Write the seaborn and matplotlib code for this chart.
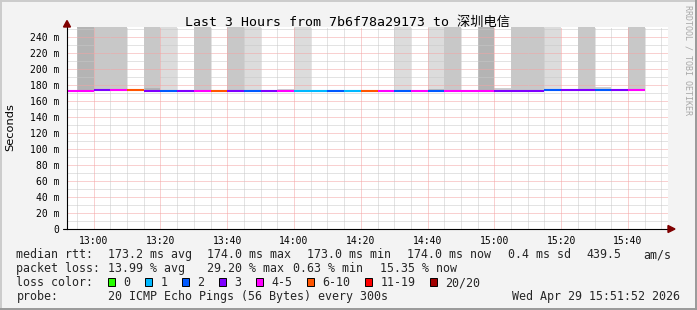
import matplotlib
matplotlib.use("Agg")
import matplotlib.pyplot as plt
import seaborn as sns
import pandas as pd
from matplotlib.patches import Rectangle, Polygon
from matplotlib.lines import Line2D
from matplotlib.ticker import MultipleLocator

# ---------------- data ----------------
step_times = ["12:50", "12:55", "13:00", "13:05", "13:10", "13:15", "13:20", "13:25",
              "13:30", "13:35", "13:40", "13:45", "13:50", "13:55", "14:00", "14:05",
              "14:10", "14:15", "14:20", "14:25", "14:30", "14:35", "14:40", "14:45",
              "14:50", "14:55", "15:00", "15:05", "15:10", "15:15", "15:20", "15:25",
              "15:30", "15:35", "15:40"]
median_rtt_ms = [173, 173, 174, 174, 174, 173, 173, 173,
                 173, 173, 173, 173, 173, 173, 173, 173,
                 173, 173, 173, 173, 173, 173, 173, 173,
                 173, 173, 173, 173, 173, 174, 174, 174,
                 174, 174, 174]
loss_class = ["4-5", "4-5", "3", "4-5", "6-10", "3", "2", "3",
              "4-5", "6-10", "3", "2", "3", "4-5", "1", "1",
              "2", "1", "6-10", "4-5", "2", "4-5", "2", "4-5",
              "4-5", "4-5", "3", "3", "3", "2", "3", "3",
              "2", "3", "4-5"]
smoke_shade = ["none", "dark", "mid", "mid", "none", "mid", "light", "none",
               "mid", "none", "mid", "light", "none", "none", "light", "none",
               "none", "none", "none", "none", "light", "none", "light", "mid",
               "none", "dark", "none", "mid", "mid", "light", "none", "mid",
               "none", "none", "mid"]
bump_top_ms = [0, 0, 0, 0, 0, 176, 0, 0,
               0, 0, 0, 0, 0, 175, 0, 0,
               0, 0, 0, 0, 0, 0, 175.5, 0,
               0, 0, 176.5, 0, 0, 0, 175.5, 0,
               178, 0, 0]

loss_labels = ["0", "1", "2", "3", "4-5", "6-10", "11-19", "20/20"]
loss_colors = ["#26ff00", "#00b8ff", "#0059ff", "#7e00ff", "#ff00ff", "#ff5500", "#ff0000", "#a10000"]
shade_colors = {"dark": "#b4b4b4", "mid": "#c8c8c8", "light": "#dcdcdc"}

y_ticks_ms = [0, 20, 40, 60, 80, 100, 120, 140, 160, 180, 200, 220, 240]
x_tick_labels = ["13:00", "13:20", "13:40", "14:00", "14:20", "14:40", "15:00", "15:20", "15:40"]
x_range = ["12:52", "15:52"]
step_minutes = 5

title = "Last 3 Hours from 7b6f78a29173 to 深圳电信"
stats_rtt = ["median rtt:", "173.2 ms avg", "174.0 ms max", "173.0 ms min", "174.0 ms now",
             "0.4 ms sd", "439.5", "am/s"]
stats_loss = ["packet loss:", "13.99 % avg", "29.20 % max", "0.63 % min", "15.35 % now"]
probe_text = ["probe:", "20 ICMP Echo Pings (56 Bytes) every 300s"]
timestamp = "Wed Apr 29 15:51:52 2026"


def to_min(s):
    h, m = s.split(":")
    return int(h) * 60 + int(m)


# ---------------- figure ----------------
W, H = 697, 310
sns.set_style("white")
plt.rcParams["font.family"] = ["DejaVu Sans Mono", "Noto Sans CJK SC"]

fig = plt.figure(figsize=(W / 100, H / 100), dpi=100, facecolor="#f3f3f3")


def fx(x):
    return x / W


def fy(y):
    return 1 - y / H


L, R, T, B = 67, 668, 27, 229
ax = fig.add_axes([fx(L), fy(B), (R - L) / W, (B - T) / H])
ax.set_facecolor("white")
ymax = (B - T) / 0.8
ax.set_ylim(0, ymax)
ax.set_xlim(to_min(x_range[0]), to_min(x_range[1]))

starts = [to_min(t) for t in step_times]

# smoke
for s, rtt, sh in zip(starts, median_rtt_ms, smoke_shade):
    if sh != "none":
        ax.bar(s, ymax + 10 - rtt, bottom=rtt, width=step_minutes, align="edge",
               color=shade_colors[sh], linewidth=0, zorder=1)
for s, rtt, bt in zip(starts, median_rtt_ms, bump_top_ms):
    if bt > 0:
        ax.bar(s, bt - rtt, bottom=rtt, width=step_minutes, align="edge",
               color="#a0a0a0", alpha=0.5, linewidth=0, zorder=1.5)

# grid
minor_c, major_c = "#c8c8c8", "#f5a3a3"
for y in range(10, int(ymax) + 1, 10):
    ax.axhline(y, color=major_c if y % 20 == 0 else minor_c, lw=0.72,
               ls=(0, (1, 1)), zorder=2)
x0, x1 = ax.get_xlim()
m = 775
while m < x1:
    ax.axvline(m, color=major_c if (m - 780) % 20 == 0 else minor_c, lw=0.72,
               ls=(0, (1, 1)), zorder=2)
    m += 5

# median line coloured by loss
rows = []
for i, (s, rtt, lc) in enumerate(zip(starts, median_rtt_ms, loss_class)):
    rows.append({"t": s, "rtt": rtt, "loss": lc, "seg": i})
    rows.append({"t": s + step_minutes, "rtt": rtt, "loss": lc, "seg": i})
df = pd.DataFrame(rows)
palette = dict(zip(loss_labels, loss_colors))
sns.lineplot(data=df, x="t", y="rtt", hue="loss", units="seg", estimator=None,
             palette=palette, linewidth=1.5, legend=False, ax=ax, zorder=3,
             solid_capstyle="butt", sort=False)
ax.set_xlabel("")
ax.set_ylabel("")

# axes
for sp in ["top", "right"]:
    ax.spines[sp].set_visible(False)
for sp in ["left", "bottom"]:
    ax.spines[sp].set_color("black")
    ax.spines[sp].set_linewidth(0.8)
    ax.spines[sp].set_zorder(4)

ax.set_yticks(y_ticks_ms)
ax.set_yticklabels(["0" if v == 0 else f"{v} m" for v in y_ticks_ms])
ax.yaxis.set_minor_locator(MultipleLocator(10))
ax.set_xticks([to_min(t) for t in x_tick_labels])
ax.set_xticklabels(x_tick_labels)
ax.xaxis.set_minor_locator(MultipleLocator(5))
ax.tick_params(axis="both", which="major", direction="out", length=2.5, width=0.7,
               color="#444444", labelsize=7, labelcolor="black")
ax.tick_params(axis="y", which="major", pad=3.2)
ax.tick_params(axis="x", which="major", pad=2.5)
ax.tick_params(axis="both", which="minor", direction="out", length=1.5, width=0.6,
               color="#888888")

# arrows
arrow_c = "#7f0000"
fig.patches.append(Polygon([(fx(63.5), fy(27)), (fx(70.5), fy(27)), (fx(67), fy(20.5))],
                           closed=True, transform=fig.transFigure, color=arrow_c))
fig.lines.append(Line2D([fx(63), fx(L)], [fy(B), fy(B)], transform=fig.transFigure,
                        color="black", lw=0.8))
fig.patches.append(Polygon([(fx(668), fy(225.5)), (fx(668), fy(232.5)), (fx(675), fy(229))],
                           closed=True, transform=fig.transFigure, color=arrow_c))

# titles
fig.text(fx(347.5), fy(22.5), title, ha="center", va="center", fontsize=9.5, color="black")
fig.text(fx(10.5), fy(126.7), "Seconds", rotation=90, ha="center", va="center",
         fontsize=8.2, family="DejaVu Sans", color="black")
fig.text(fx(688), fy(5), "RRDTOOL / TOBI OETIKER", rotation=270, ha="center", va="top",
         fontsize=6, color="#a8a8a8")

# legend / stats text
fs = 8.4
rtt_x = [16.4, 107.6, 207.1, 307.2, 407.3, 507.7, 586.7, 643.3]
for x, s in zip(rtt_x, stats_rtt):
    fig.text(fx(x), fy(258.3), s, ha="left", va="baseline", fontsize=fs)
loss_x = [16.4, 107.6, 207.1, 293.4, 380.0]
for x, s in zip(loss_x, stats_loss):
    fig.text(fx(x), fy(272.3), s, ha="left", va="baseline", fontsize=fs)
fig.text(fx(16.4), fy(286.3), "loss color:", ha="left", va="baseline", fontsize=fs)
sx = 107.7
for lab, col in zip(loss_labels, loss_colors):
    fig.patches.append(Rectangle((fx(sx), fy(285.5)), 7.5 / W, 8 / H, transform=fig.transFigure,
                                 facecolor=col, edgecolor="black", linewidth=0.7))
    fig.text(fx(sx + 15.5), fy(286.3), lab, ha="left", va="baseline", fontsize=fs)
    sx += 30 + 7 * len(lab)
fig.text(fx(16.4), fy(300), probe_text[0], ha="left", va="baseline", fontsize=fs)
fig.text(fx(107.6), fy(300), probe_text[1], ha="left", va="baseline", fontsize=fs)
fig.text(fx(680), fy(300), timestamp, ha="right", va="baseline", fontsize=fs)

# 3D frame
fig.lines.append(Line2D([0, 1], [fy(0.5), fy(0.5)], transform=fig.transFigure, color="#cbcbcb", lw=1.4))
fig.lines.append(Line2D([fx(0.5), fx(0.5)], [0, 1], transform=fig.transFigure, color="#cbcbcb", lw=1.4))
fig.lines.append(Line2D([0, 1], [fy(309), fy(309)], transform=fig.transFigure, color="#999999", lw=1.4))
fig.lines.append(Line2D([fx(696), fx(696)], [0, 1], transform=fig.transFigure, color="#999999", lw=1.4))

fig.savefig("out.png", dpi=100, facecolor=fig.get_facecolor())
